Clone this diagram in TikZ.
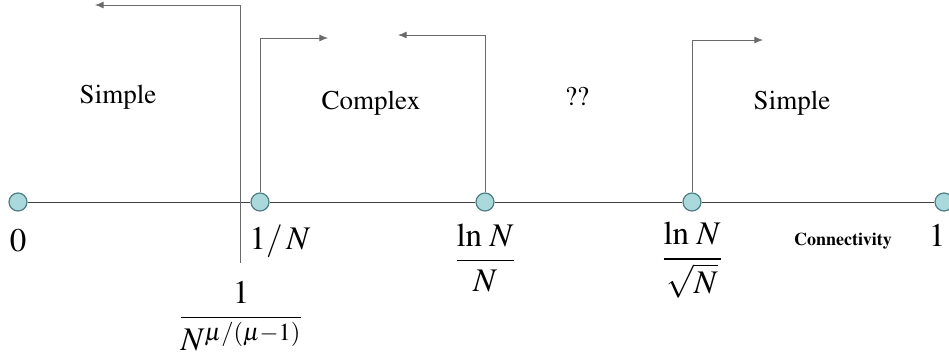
\documentclass[tikz,border=0pt]{standalone}
\usepackage{amsmath}
\usepackage{mathptmx}
\usepackage{tikz}
\usetikzlibrary{arrows.meta,positioning}
\newcommand\timesface{\usefont{OT1}{ptm}{m}{n}}
\newcommand\timesbold{\usefont{OT1}{ptm}{b}{n}}
\definecolor{dotfill}{HTML}{A9D9DB}
\definecolor{dotline}{HTML}{4F7F85}
\definecolor{axisgray}{HTML}{404040}
\definecolor{linegray}{HTML}{6A6A6A}
\tikzset{
  dot/.style={circle,draw=dotline,fill=dotfill,semithick,minimum size=9pt,inner sep=0pt},
  axisline/.style={draw=axisgray,thin},
  arrow/.style={-{Latex[length=1.5mm,width=1.2mm]},draw=linegray,thin},
  region/.style={font=\fontsize{13.5}{16}\timesface,inner sep=0pt},
  ticklabel/.style={font=\fontsize{16.5}{19}\selectfont,inner sep=0pt},
  axisname/.style={font=\fontsize{9}{11}\timesbold,inner sep=0pt}
}
\begin{document}
\begin{tikzpicture}[x=0.5pt,y=-0.5pt]
  \useasboundingbox (0,0) rectangle (949,354);
  % points on the connectivity axis
  \node[dot] (p0) at (18,202) {};
  \node[dot] (p1) at (260,202) {};
  \node[dot] (p2) at (485,202) {};
  \node[dot] (p3) at (692,202) {};
  \node[dot] (p4) at (944,202) {};
  \draw[axisline] (p0)--(p1) (p1)--(p2) (p2)--(p3) (p3)--(p4);
  % labels under the axis
  \node[ticklabel] (l0) at (18,241) {$0$};
  \node[ticklabel] (l1) at (280,241) {$1/\,N$};
  \node[ticklabel] (l2) at (485,258) {$\dfrac{\ln\,N}{N}$};
  \node[ticklabel] (l3) at (692,260) {$\dfrac{\ln\,N}{\sqrt{N}}$};
  \node[ticklabel] (l4) at (937,235) {$1$};
  \node[axisname,left=18pt of l4.west,anchor=east,yshift=-3pt] (cn) {Connectivity};
  \node[ticklabel] (lmu) at (241,316) {$\dfrac{1}{N^{\mu/(\mu-1)}}$};
  % regimes
  \node[region] (s1) at (118,97) {Simple};
  \node[region] (cx) at (371,103) {Complex};
  \node[region] (qq) at (577,96) {??};
  \node[region] (s2) at (792,103) {Simple};
  % thresholds and directions
  \coordinate (tbot) at (240,263);
  \coordinate (a0) at (95,5);
  \coordinate (a1) at (328,38);
  \coordinate (a2) at (398,35);
  \coordinate (a3) at (763,40);
  \draw[arrow] (tbot) |- (a0);
  \draw[arrow] (p1) |- (a1);
  \draw[arrow] (p2) |- (a2);
  \draw[arrow] (p3) |- (a3);
\end{tikzpicture}
\end{document}
